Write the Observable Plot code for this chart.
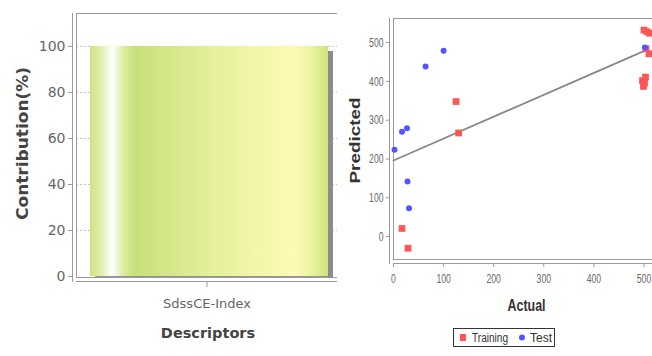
<!DOCTYPE html>
<html><head><meta charset="utf-8">
<script src="https://cdn.jsdelivr.net/npm/d3@7"></script>
<script src="https://cdn.jsdelivr.net/npm/@observablehq/plot@0.6"></script>
<style>
body{margin:0;background:#fff;}
#wrap{position:relative;width:652px;height:356px;overflow:hidden;background:#fff;}
#left{position:absolute;left:0;top:0;}
#right{position:absolute;left:337px;top:0;}
#legend{position:absolute;left:453px;top:328px;width:102px;height:19px;border:1px solid #333;box-sizing:border-box;}
#legend svg{display:block;}
</style></head><body>
<svg width="0" height="0" style="position:absolute"><defs>
<linearGradient id="barGrad" x1="0" x2="1" y1="0" y2="0">
<stop offset="0" stop-color="#cfe47e"/>
<stop offset="0.05" stop-color="#e3efb4"/>
<stop offset="0.095" stop-color="#ffffff"/>
<stop offset="0.14" stop-color="#dceca0"/>
<stop offset="0.19" stop-color="#c8e07a"/>
<stop offset="0.35" stop-color="#d6e88a"/>
<stop offset="0.55" stop-color="#e8f29e"/>
<stop offset="0.75" stop-color="#f6f8ac"/>
<stop offset="0.86" stop-color="#fdfab6"/>
<stop offset="0.93" stop-color="#ecf3a0"/>
<stop offset="1" stop-color="#cde37a"/>
</linearGradient></defs></svg>
<div id="wrap"><div id="left"></div><div id="right"></div><div id="legend"></div></div>
<script>
// ---- data ----
const descriptors = ["SdssCE-Index"];
const contribution = [100];
const contribTicks = [0, 20, 40, 60, 80, 100];

const trainActual = [17, 29, 125, 130, 500, 506, 511, 504, 510, 497, 503, 499, 501];
const trainPred   = [21, -30, 348, 267, 532, 528, 524, 484, 471, 402, 411, 387, 395];
const testActual  = [2, 17, 27, 64, 100, 28, 31, 502];
const testPred    = [224, 270, 279, 438, 479, 142, 73, 487];
const fitActual   = [0, 503];
const fitPred     = [196, 480];
const actualTicks = [0, 100, 200, 300, 400, 500];
const predTicks   = [0, 100, 200, 300, 400, 500];
const seriesNames  = ["Training", "Test"];
const seriesColors = ["#ff5555", "#5555ff"];

function squeeze(svg, text, len) {
  d3.select(svg).selectAll("text").filter(function(){ return this.textContent === text; })
    .attr("textLength", len).attr("lengthAdjust", "spacingAndGlyphs");
}

// ---- left chart ----
const barData = descriptors.map((d, i) => ({d, v: contribution[i]}));
const lineCol = "#9a9a9a";
const left = Plot.plot({
  width: 337, height: 356,
  marginLeft: 76, marginRight: 0, marginTop: 13, marginBottom: 79,
  style: {fontFamily: "DejaVu Sans", background: "transparent", overflow: "hidden", color: "#666"},
  x: {type: "band", domain: descriptors, padding: 0},
  y: {domain: [-0.4, 114.3]},
  marks: [
    Plot.gridY(contribTicks.slice(1), {stroke: "#c4c4c4", strokeOpacity: 1, strokeDasharray: "2,2"}),
    Plot.barY(barData, {x: "d", y: "v", fill: "#8c8c8c", dx: 5, dy: 5, insetLeft: 14, insetRight: 9}),
    Plot.barY(barData, {x: "d", y: "v", fill: "url(#barGrad)", insetLeft: 14, insetRight: 9}),
    Plot.frame({anchor: "top", stroke: lineCol}),
    Plot.frame({anchor: "left", stroke: lineCol}),
    Plot.frame({anchor: "bottom", stroke: "#fff", strokeWidth: 4, dy: 2}),
    Plot.frame({anchor: "bottom", stroke: lineCol}),
    Plot.frame({anchor: "left", stroke: lineCol, dx: -4, insetBottom: -4}),
    Plot.frame({anchor: "bottom", stroke: lineCol, dy: 4}),
    Plot.axisY(contribTicks, {tickSize: 4, dx: -4, tickPadding: 3, fontSize: 14, stroke: lineCol, fill: "#666", label: null}),
    Plot.axisX({tickSize: 5, dy: 5, tickPadding: 11, fontSize: 13, stroke: lineCol, fill: "#666", label: null}),
    Plot.text(["Contribution(%)"], {frameAnchor: "left", rotate: -90, dx: -54, dy: -2, fontSize: 16, fontWeight: "bold", fill: "#444", textAnchor: "middle", lineAnchor: "middle"}),
    Plot.text(["Descriptors"], {frameAnchor: "bottom", dx: 1, dy: 56, fontSize: 14.5, fontWeight: "bold", fill: "#444", textAnchor: "middle", lineAnchor: "middle"})
  ]
});
document.getElementById("left").append(left);
squeeze(left, "Contribution(%)", 153);

// ---- right chart ----
const train = trainActual.map((a, i) => ({a, p: trainPred[i]}));
const test = testActual.map((a, i) => ({a, p: testPred[i]}));
const fit = fitActual.map((a, i) => ({a, p: fitPred[i]}));
const sans = "'Liberation Sans', Arial, sans-serif";
const right = Plot.plot({
  width: 315, height: 356,
  marginLeft: 56, marginRight: 0, marginTop: 18, marginBottom: 97,
  style: {fontFamily: sans, background: "transparent", overflow: "hidden", color: "#666"},
  x: {domain: [0, 517]},
  y: {domain: [-59, 562]},
  marks: [
    Plot.frame({anchor: "top", stroke: lineCol}),
    Plot.frame({anchor: "left", stroke: lineCol}),
    Plot.frame({anchor: "bottom", stroke: lineCol}),
    Plot.frame({anchor: "left", stroke: lineCol, dx: -4, insetBottom: -4}),
    Plot.frame({anchor: "bottom", stroke: lineCol, dy: 4}),
    Plot.line(fit, {x: "a", y: "p", stroke: "#888", strokeWidth: 1.8}),
    Plot.dot(train, {x: "a", y: "p", symbol: "square", r: 3.8, fill: seriesColors[0]}),
    Plot.dot(test, {x: "a", y: "p", symbol: "circle", r: 3, fill: seriesColors[1]}),
    Plot.axisY(predTicks, {tickSize: 3, dx: -4, tickPadding: 3, fontSize: 13, stroke: lineCol, fill: "#666", label: null}),
    Plot.axisX(actualTicks, {tickSize: 4, dy: 4, tickPadding: 7, fontSize: 12, stroke: lineCol, fill: "#666", label: null}),
    Plot.text(["Predicted"], {frameAnchor: "left", rotate: -90, dx: -38, dy: 1.5, fontSize: 14, fontWeight: "bold", fill: "#333", textAnchor: "middle", lineAnchor: "middle"}),
    Plot.text(["Actual"], {frameAnchor: "bottom", dx: 3.5, dy: 46, fontSize: 16, fontWeight: "bold", fill: "#333", textAnchor: "middle", lineAnchor: "middle"})
  ]
});
document.getElementById("right").append(right);
squeeze(right, "Predicted", 86);
squeeze(right, "Actual", 38);
// narrow the tick labels horizontally (the reference font is condensed)
d3.select(right).selectAll("g[aria-label$='tick label'] text").each(function(){
  const t = d3.select(this);
  const w = this.getComputedTextLength();
  const k = (4.8 * this.textContent.length) / w;
  const tr = t.attr("transform");
  if (tr) t.attr("transform", tr + ` scale(${k},1)`);
  else {
    const x = +t.attr("x") || 0;
    t.attr("transform", `translate(${x},0) scale(${k},1) translate(${-x},0)`);
  }
});

// ---- legend ----
const lg = d3.select("#legend").append("svg").attr("width", 100).attr("height", 17)
  .style("font-family", sans).style("font-size", "12px");
lg.append("rect").attr("x", 6).attr("y", 5).attr("width", 6).attr("height", 7).attr("fill", seriesColors[0]);
lg.append("text").attr("x", 18).attr("y", 13).attr("fill", "#333").text(seriesNames[0])
  .attr("textLength", 36).attr("lengthAdjust", "spacingAndGlyphs");
lg.append("circle").attr("cx", 68).attr("cy", 8.5).attr("r", 3).attr("fill", seriesColors[1]);
lg.append("text").attr("x", 76).attr("y", 13).attr("fill", "#333").text(seriesNames[1])
  .attr("textLength", 22).attr("lengthAdjust", "spacingAndGlyphs");
</script>
</body></html>
